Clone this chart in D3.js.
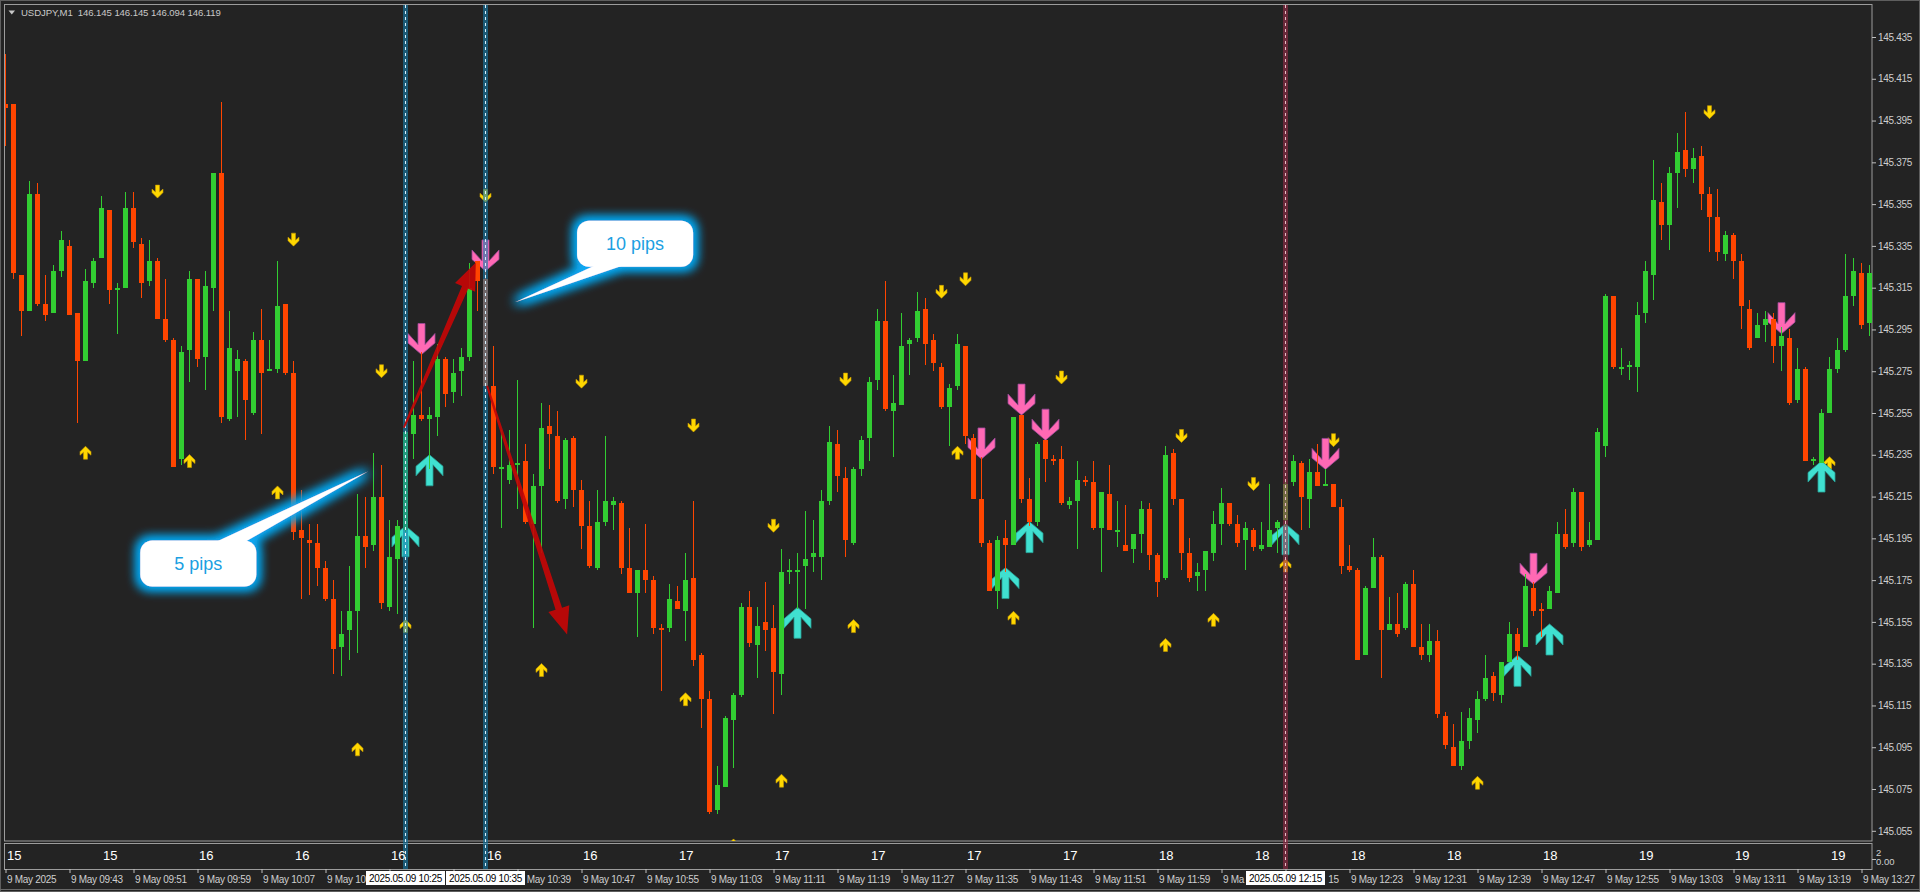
<!DOCTYPE html>
<html><head><meta charset="utf-8">
<script src="https://cdnjs.cloudflare.com/ajax/libs/d3/7.8.5/d3.min.js"></script>
<style>
html,body{margin:0;padding:0;background:#232323;overflow:hidden}
svg{display:block}
text{font-family:"Liberation Sans",Arial,sans-serif}
</style></head><body>
<svg id="chart" width="1920" height="892"></svg>
<script>
// ---------------- DATA ----------------
const symbolTitle = "USDJPY,M1  146.145 146.145 146.094 146.119";

const openP = [
145.403,145.403,145.321,145.304,145.360,145.307,145.303,145.323,145.335,145.303,
145.280,145.317,145.329,145.352,145.314,145.315,145.353,145.336,145.318,145.328,
145.300,145.290,145.233,145.285,145.319,145.282,145.315,145.370,145.252,145.275,
145.280,145.255,145.290,145.275,145.276,145.307,145.274,145.199,145.194,145.193,
145.181,145.166,145.143,145.151,145.160,145.196,145.192,145.215,145.162,145.185,
145.199,145.245,145.254,145.252,145.253,145.281,145.265,145.275,145.282,145.328,
145.319,145.268,145.228,145.223,145.230,145.232,145.202,145.220,145.249,145.244,
145.214,145.243,145.218,145.201,145.181,145.203,145.211,145.212,145.181,145.169,
145.180,145.175,145.152,145.152,145.165,145.160,145.176,145.139,145.118,145.065,
145.076,145.108,145.120,145.162,145.144,145.155,145.152,145.130,145.179,145.179,
145.182,145.186,145.186,145.213,145.240,145.224,145.193,145.228,145.243,145.271,
145.299,145.256,145.259,145.288,145.291,145.305,145.290,145.277,145.258,145.268,
145.287,145.243,145.214,145.193,145.170,145.195,145.192,145.254,145.214,145.203,
145.242,145.233,145.233,145.211,145.213,145.223,145.222,145.200,145.216,145.198,
145.192,145.190,145.197,145.209,145.187,145.176,145.236,145.214,145.188,145.177,
145.180,145.188,145.202,145.212,145.202,145.194,145.199,145.190,145.191,145.200,
145.204,145.222,145.231,145.214,145.227,145.220,145.221,145.210,145.182,145.180,
145.139,145.171,145.186,145.151,145.154,145.152,145.173,145.143,145.139,145.146,
145.110,145.095,145.086,145.098,145.108,145.118,145.129,145.120,145.136,145.149,
145.143,145.171,145.161,145.161,145.169,145.197,145.193,145.217,145.192,145.194,
145.239,145.311,145.276,145.277,145.277,145.303,145.321,145.356,145.345,145.370,
145.381,145.372,145.378,145.360,145.349,145.331,145.340,145.328,145.305,145.291,
145.297,145.300,145.287,145.291,145.261,145.276,145.232,145.231,145.255,145.276,
145.285,145.311,145.322,145.298];

const highP = [
145.427,145.403,145.321,145.366,145.365,145.321,145.326,145.342,145.338,145.303,
145.324,145.329,145.359,145.352,145.317,145.361,145.361,145.339,145.338,145.329,
145.319,145.291,145.287,145.323,145.319,145.323,145.370,145.404,145.304,145.285,
145.281,145.294,145.305,145.290,145.328,145.307,145.280,145.218,145.202,145.202,
145.184,145.175,145.160,145.182,145.216,145.215,145.236,145.230,145.204,145.204,
145.247,145.280,145.284,145.258,145.288,145.282,145.281,145.286,145.327,145.328,
145.323,145.287,145.247,145.247,145.271,145.240,145.226,145.260,145.259,145.256,
145.243,145.244,145.223,145.213,145.218,145.244,145.215,145.213,145.200,145.180,
145.202,145.177,145.154,145.173,145.172,145.188,145.213,145.140,145.122,145.086,
145.110,145.121,145.164,145.170,145.162,145.174,145.163,145.190,145.185,145.188,
145.208,145.204,145.218,145.249,145.247,145.229,145.229,145.244,145.272,145.305,
145.318,145.273,145.303,145.291,145.313,145.310,145.293,145.279,145.269,145.293,
145.287,145.245,145.234,145.194,145.196,145.204,145.253,145.254,145.224,145.241,
145.242,145.235,145.239,145.215,145.232,145.225,145.232,145.217,145.230,145.213,
145.211,145.197,145.213,145.212,145.188,145.239,145.238,145.214,145.195,145.183,
145.189,145.208,145.219,145.212,145.206,145.203,145.200,145.203,145.221,145.204,
145.223,145.235,145.232,145.233,145.240,145.228,145.221,145.214,145.192,145.181,
145.172,145.195,145.187,145.167,145.169,145.174,145.180,145.154,145.154,145.151,
145.112,145.106,145.112,145.114,145.122,145.139,145.131,145.136,145.155,145.152,
145.178,145.174,145.164,145.172,145.203,145.209,145.219,145.217,145.203,145.248,
145.312,145.311,145.286,145.280,145.308,145.328,145.376,145.365,145.373,145.389,
145.399,145.382,145.383,145.363,145.362,145.342,145.341,145.331,145.309,145.303,
145.304,145.303,145.296,145.295,145.286,145.277,145.234,145.257,145.282,145.291,
145.331,145.329,145.327,145.326];

const lowP = [
145.383,145.319,145.292,145.304,145.306,145.299,145.303,145.320,145.302,145.250,
145.280,145.315,145.329,145.307,145.293,145.315,145.334,145.310,145.316,145.300,
145.289,145.229,145.230,145.270,145.277,145.266,145.304,145.250,145.251,145.253,
145.242,145.254,145.245,145.275,145.274,145.273,145.194,145.166,145.168,145.172,
145.165,145.130,145.129,145.137,145.140,145.181,145.189,145.161,145.160,145.159,
145.198,145.233,145.251,145.228,145.244,145.258,145.260,145.263,145.280,145.304,
145.268,145.226,145.200,145.221,145.209,145.202,145.152,145.188,145.228,145.212,
145.209,145.210,145.190,145.181,145.180,145.201,145.199,145.178,145.169,145.148,
145.169,145.149,145.122,145.150,145.161,145.146,145.134,145.104,145.063,145.063,
145.076,145.085,145.119,145.143,145.128,145.141,145.111,145.120,145.173,145.161,
145.161,145.179,145.175,145.211,145.217,145.186,145.192,145.225,145.232,145.266,
145.256,145.234,145.259,145.273,145.289,145.278,145.275,145.257,145.239,145.266,
145.240,145.214,145.191,145.170,145.161,145.179,145.192,145.212,145.201,145.201,
145.222,145.230,145.211,145.209,145.190,145.220,145.199,145.179,145.199,145.191,
145.189,145.183,145.188,145.180,145.167,145.175,145.211,145.180,145.174,145.170,
145.170,145.184,145.192,145.201,145.191,145.180,145.189,145.189,145.191,145.188,
145.201,145.220,145.199,145.200,145.220,145.220,145.210,145.178,145.179,145.137,
145.139,145.171,145.128,145.151,145.148,145.151,145.143,145.137,145.136,145.109,
145.094,145.086,145.084,145.094,145.102,145.117,145.117,145.116,145.136,145.137,
145.143,145.158,145.148,145.161,145.169,145.190,145.191,145.189,145.191,145.194,
145.234,145.276,145.273,145.271,145.265,145.298,145.309,145.338,145.333,145.353,
145.368,145.365,145.352,145.332,145.328,145.328,145.319,145.295,145.285,145.291,
145.289,145.279,145.275,145.259,145.260,145.232,145.230,145.231,145.255,145.274,
145.284,145.306,145.295,145.292];

const closeP = [
145.401,145.322,145.304,145.360,145.307,145.302,145.323,145.338,145.302,145.280,
145.318,145.328,145.353,145.314,145.315,145.353,145.337,145.317,145.328,145.300,
145.290,145.229,145.284,145.319,145.281,145.316,145.370,145.253,145.286,145.281,
145.261,145.290,145.274,145.276,145.306,145.274,145.198,145.195,145.193,145.181,
145.166,145.142,145.149,145.160,145.196,145.191,145.215,145.164,145.186,145.201,
145.246,145.254,145.252,145.254,145.281,145.264,145.274,145.282,145.315,145.318,
145.268,145.229,145.229,145.230,145.231,145.203,145.220,145.248,145.245,145.213,
145.242,145.218,145.201,145.182,145.203,145.213,145.213,145.181,145.169,145.180,
145.175,145.152,145.151,145.166,145.161,145.175,145.137,145.118,145.064,145.077,
145.109,145.120,145.162,145.145,145.153,145.151,145.131,145.179,145.180,145.180,
145.185,145.188,145.213,145.241,145.225,145.194,145.228,145.242,145.270,145.299,
145.257,145.260,145.287,145.290,145.304,145.288,145.279,145.258,145.267,145.288,
145.244,145.214,145.193,145.170,145.194,145.192,145.253,145.214,145.203,145.240,
145.233,145.232,145.212,145.213,145.223,145.222,145.200,145.217,145.199,145.199,
145.189,145.197,145.209,145.187,145.174,145.235,145.214,145.188,145.176,145.179,
145.189,145.202,145.212,145.202,145.193,145.200,145.191,145.192,145.199,145.203,
145.221,145.232,145.215,145.227,145.220,145.221,145.210,145.182,145.180,145.137,
145.171,145.186,145.151,145.154,145.149,145.173,145.143,145.139,145.146,145.111,
145.096,145.086,145.098,145.109,145.118,145.128,145.121,145.136,145.149,145.141,
145.172,145.160,145.160,145.170,145.197,145.191,145.217,145.191,145.194,145.246,
145.311,145.277,145.277,145.278,145.302,145.323,145.357,145.345,145.370,145.380,
145.372,145.377,145.360,145.349,145.332,145.340,145.328,145.306,145.286,145.297,
145.300,145.287,145.292,145.260,145.276,145.232,145.233,145.255,145.276,145.285,
145.311,145.323,145.297,145.322];

const priceTicks = [145.435,145.415,145.395,145.375,145.355,145.335,145.315,145.295,145.275,145.255,
  145.235,145.215,145.195,145.175,145.155,145.135,145.115,145.095,145.075,145.055];

const timeTickBars = [0,8,16,24,32,40,48,56,64,72,80,88,96,104,112,120,128,136,144,152,160,168,176,184,192,200,208,216,224,232];
const timeLabels = ["9 May 2025","9 May 09:43","9 May 09:51","9 May 09:59","9 May 10:07","9 May 10:15","9 May 10:23","9 May 10:31",
  "9 May 10:39","9 May 10:47","9 May 10:55","9 May 11:03","9 May 11:11","9 May 11:19","9 May 11:27","9 May 11:35","9 May 11:43",
  "9 May 11:51","9 May 11:59","9 May 12:07","9 May 12:15","9 May 12:23","9 May 12:31","9 May 12:39","9 May 12:47","9 May 12:55",
  "9 May 13:03","9 May 13:11","9 May 13:19","9 May 13:27"];

const hourBars = [0,12,24,36,48,60,72,84,96,108,120,132,144,156,168,180,192,204,216,228];
const hourLabels = ["15","15","16","16","16","16","16","17","17","17","17","17","18","18","18","18","18","19","19","19"];
const subAxisLabels = ["2","0.00"];

const yellowUpBars = [10,23,34,44,50,67,85,91,97,106,119,126,145,151,160,184,228];
const yellowUpPrices = [145.236,145.232,145.217,145.094,145.153,145.132,145.118,145.048,145.079,145.153,145.236,145.157,145.144,145.156,145.182,145.078,145.231];
const yellowDownBars = [19,36,47,60,72,86,96,105,117,120,132,147,156,166,213];
const yellowDownPrices = [145.361,145.338,145.275,145.359,145.270,145.249,145.201,145.271,145.313,145.319,145.272,145.244,145.221,145.242,145.399];

const buyBars = [50,53,99,125,128,160,189,193,227];
const buyPrices = [145.201,145.235,145.162,145.181,145.203,145.202,145.139,145.154,145.232];
const sellBars = [52,60,122,127,130,165,191,222];
const sellPrices = [145.283,145.323,145.233,145.254,145.242,145.228,145.173,145.293];

const vLineBars = [50,60,160];
const vLineLabels = ["2025.05.09 10:25","2025.05.09 10:35","2025.05.09 12:15"];
const vLineKinds = ["blue","blue","red"];

const trendFromBar = [49.8,60.2];
const trendFromPrice = [145.248,145.268];
const trendToBar = [58.8,70.2];
const trendToPrice = [145.327,145.149];

const calloutText = ["5 pips","10 pips"];
const calloutBar = [24.1,78.7];
const calloutPrice = [145.183,145.336];
const calloutTipBar = [45.3,63.7];
const calloutTipPrice = [145.227,145.308];

// ---------------- DRAW ----------------
const svg = d3.select("#chart");
const W = 1920, H = 892;
const PL = 5, PR = 1872, PT = 5, PB = 841, ST = 843, SB = 869;
const BULL = "#32CD32", BEAR = "#FF4500", AXIS_TXT = "#cfcfcf", FRAME = "#9c9c9c";

const x = d3.scaleLinear().domain([0, 233]).range([5, 1869]);
const y = d3.scaleLinear().domain([145.435, 145.055]).range([37, 830.8]);

const defs = svg.append("defs");
defs.append("clipPath").attr("id", "clipMain").append("rect")
  .attr("x", PL).attr("y", PT).attr("width", PR - PL).attr("height", PB - PT);
const glow = defs.append("filter").attr("id", "glow")
  .attr("x", "-40%").attr("y", "-60%").attr("width", "180%").attr("height", "220%");
glow.append("feMorphology").attr("in", "SourceAlpha").attr("operator", "dilate").attr("radius", 3).attr("result", "d");
glow.append("feGaussianBlur").attr("in", "d").attr("stdDeviation", 5.5).attr("result", "b");
glow.append("feFlood").attr("flood-color", "#0aa8f2").attr("result", "f");
glow.append("feComposite").attr("in", "f").attr("in2", "b").attr("operator", "in").attr("result", "g");
const gm = glow.append("feMerge");
gm.append("feMergeNode").attr("in", "g");
gm.append("feMergeNode").attr("in", "g");
gm.append("feMergeNode").attr("in", "SourceGraphic");

svg.append("rect").attr("width", W).attr("height", H).attr("fill", "#232323");
svg.append("rect").attr("x", 0.5).attr("y", 0.5).attr("width", W - 1).attr("height", H - 1)
  .attr("fill", "none").attr("stroke", "#5e5e5e");

// frames
svg.append("rect").attr("x", PL - 0.5).attr("y", PT - 0.5).attr("width", PR - PL + 0.5).attr("height", PB - PT + 0.5)
  .attr("fill", "none").attr("stroke", FRAME);
svg.append("rect").attr("x", PL - 0.5).attr("y", ST + 0.5).attr("width", PR - PL + 0.5).attr("height", SB - ST)
  .attr("fill", "none").attr("stroke", FRAME);
svg.append("line").attr("x1", 0).attr("x2", W).attr("y1", 889.5).attr("y2", 889.5).attr("stroke", "#6a6a6a");

// header
svg.append("path").attr("d", "M8.5,10.5L15,10.5L11.75,14.5Z").attr("fill", "#c8c8c8");
svg.append("text").attr("x", 21).attr("y", 16).attr("font-size", 9.6).attr("fill", "#c8c8c8")
  .style("white-space", "pre").attr("letter-spacing", -0.1).text(symbolTitle);

// main plot group
const mainG = svg.append("g").attr("clip-path", "url(#clipMain)");

// signal arrows (behind candles)
const bigDown = [[-3.5,-31],[3.5,-31],[3.5,-10],[13.5,-21],[13.5,-11.5],[0,0],[-13.5,-11.5],[-13.5,-21],[-3.5,-10]];
const bigUp = bigDown.map(([a,b]) => [a, -b]);
const smallUp = [[0,-6.5],[5.5,-1],[5.5,2.5],[2,-0.5],[2,6.5],[-2,6.5],[-2,-0.5],[-5.5,2.5],[-5.5,-1]];
const smallDown = smallUp.map(([a,b]) => [a, -b]);
const poly = pts => "M" + pts.map(p => p.join(",")).join("L") + "Z";

const ySig = mainG.append("g");
ySig.selectAll("path.yu").data(yellowUpBars).join("path").attr("class", "yu")
  .attr("d", poly(smallUp))
  .attr("transform", (b, i) => `translate(${x(b) + 0.5},${y(yellowUpPrices[i])})`)
  .attr("fill", "#FFD700").attr("stroke", "#c79a00").attr("stroke-width", 0.6);
ySig.selectAll("path.yd").data(yellowDownBars).join("path").attr("class", "yd")
  .attr("d", poly(smallDown))
  .attr("transform", (b, i) => `translate(${x(b) + 0.5},${y(yellowDownPrices[i])})`)
  .attr("fill", "#FFD700").attr("stroke", "#c79a00").attr("stroke-width", 0.6);

mainG.selectAll("path.buy").data(buyBars).join("path").attr("class", "buy")
  .attr("d", poly(bigUp))
  .attr("transform", (b, i) => `translate(${x(b) + 0.5},${y(buyPrices[i])})`)
  .attr("fill", "#40E0D0").attr("stroke", "#279e94").attr("stroke-width", 0.8);
mainG.selectAll("path.sell").data(sellBars).join("path").attr("class", "sell")
  .attr("d", poly(bigDown))
  .attr("transform", (b, i) => `translate(${x(b) + 0.5},${y(sellPrices[i])})`)
  .attr("fill", "#FF69B4").attr("stroke", "#9b4a9a").attr("stroke-width", 0.8);

// candles
const bars = openP.map((o, i) => ({ i, o, h: highP[i], l: lowP[i], c: closeP[i] }));
const gc = mainG.append("g").attr("shape-rendering", "crispEdges");
gc.selectAll("rect.wick").data(bars).join("rect").attr("class", "wick")
  .attr("x", d => x(d.i)).attr("width", 1)
  .attr("y", d => Math.round(y(d.h)))
  .attr("height", d => Math.max(1, Math.round(y(d.l)) - Math.round(y(d.h))))
  .attr("fill", d => d.c >= d.o ? BULL : BEAR);
gc.selectAll("rect.body").data(bars).join("rect").attr("class", "body")
  .attr("x", d => x(d.i) - 2).attr("width", 5)
  .attr("y", d => Math.round(y(Math.max(d.o, d.c))))
  .attr("height", d => Math.max(1, Math.round(y(Math.min(d.o, d.c))) - Math.round(y(Math.max(d.o, d.c)))))
  .attr("fill", d => d.c >= d.o ? BULL : BEAR);

// vertical period lines
vLineBars.forEach((b, i) => {
  const cx = x(b);
  const blue = vLineKinds[i] === "blue";
  svg.append("rect").attr("x", cx - 2).attr("y", PT).attr("width", 5).attr("height", SB - PT)
    .attr("fill", blue ? "rgba(25,125,170,0.62)" : "rgba(150,45,72,0.62)");
  svg.append("line").attr("x1", cx + 0.5).attr("x2", cx + 0.5).attr("y1", PT).attr("y2", SB)
    .attr("stroke", blue ? "#d9f1ff" : "#e9bcc6").attr("stroke-width", 1).attr("stroke-dasharray", "3,3");
});

// red trend arrows
const overlay = svg.append("g").attr("clip-path", "url(#clipMain)");
function taper(x1, y1, x2, y2) {
  const dx = x2 - x1, dy = y2 - y1, len = Math.hypot(dx, dy);
  const ux = dx / len, uy = dy / len, nx = -uy, ny = ux;
  const hl = 27, hw = 11, w0 = 1, w1 = 3.4;
  const bx = x2 - ux * hl, by = y2 - uy * hl;
  return poly([[x1 + nx * w0, y1 + ny * w0], [bx + nx * w1, by + ny * w1], [bx + nx * hw, by + ny * hw], [x2, y2],
    [bx - nx * hw, by - ny * hw], [bx - nx * w1, by - ny * w1], [x1 - nx * w0, y1 - ny * w0]]);
}
trendFromBar.forEach((b, i) => {
  overlay.append("path")
    .attr("d", taper(x(b) + 0.5, y(trendFromPrice[i]), x(trendToBar[i]) + 0.5, y(trendToPrice[i])))
    .attr("fill", "#c40606").attr("fill-opacity", 0.92);
});

// callouts
calloutText.forEach((t, i) => {
  const cx = x(calloutBar[i]) + 0.5, cy = y(calloutPrice[i]);
  const tx = x(calloutTipBar[i]) + 0.5, ty = y(calloutTipPrice[i]);
  const bw = 116, bh = 46;
  const bc = Math.max(-40, Math.min(40, (tx - cx) * 0.16));
  const edgeY = ty < cy ? cy - bh / 2 + 4 : cy + bh / 2 - 4;
  const g = overlay.append("g").attr("filter", "url(#glow)");
  g.append("path").attr("d", `M${cx + bc - 15},${edgeY}L${tx},${ty}L${cx + bc + 15},${edgeY}Z`).attr("fill", "#ffffff");
  g.append("rect").attr("x", cx - bw / 2).attr("y", cy - bh / 2).attr("width", bw).attr("height", bh)
    .attr("rx", 12).attr("fill", "#ffffff");
  overlay.append("text").attr("x", cx).attr("y", cy + 6.5).attr("text-anchor", "middle")
    .attr("font-size", 18).attr("fill", "#1ba0e2").text(t);
});

// price axis
const yAxis = d3.axisRight(y).tickValues(priceTicks).tickFormat(d3.format(".3f")).tickSize(4).tickPadding(2);
const ya = svg.append("g").attr("transform", `translate(${PR},0)`).call(yAxis);
ya.select(".domain").remove();
ya.selectAll(".tick line").attr("stroke", "#c0c0c0");
ya.selectAll(".tick text").attr("fill", AXIS_TXT).attr("font-size", 10).attr("letter-spacing", -0.3)
  .attr("font-family", "'Liberation Sans',Arial,sans-serif");

// sub panel labels
svg.selectAll("text.hour").data(hourBars).join("text").attr("class", "hour")
  .attr("x", b => x(b) + 2).attr("y", 860).attr("font-size", 13).attr("fill", "#ffffff")
  .style("font-family", "'Liberation Sans Narrow','Liberation Sans',Arial,sans-serif")
  .text((b, i) => hourLabels[i]);
svg.append("line").attr("x1", PR).attr("x2", PR + 4).attr("y1", 859.5).attr("y2", 859.5).attr("stroke", "#c0c0c0");
svg.append("text").attr("x", PR + 4).attr("y", 855.5).attr("font-size", 9.5).attr("fill", AXIS_TXT).text(subAxisLabels[0]);
svg.append("text").attr("x", PR + 4).attr("y", 865).attr("font-size", 9.5).attr("fill", AXIS_TXT).text(subAxisLabels[1]);

// time axis
const xAxis = d3.axisBottom(x).tickValues(timeTickBars).tickFormat((d, i) => timeLabels[i]).tickSize(4).tickPadding(3);
const xa = svg.append("g").attr("transform", `translate(0.5,${SB})`).call(xAxis);
xa.select(".domain").remove();
xa.selectAll(".tick line").attr("stroke", "#c0c0c0");
xa.selectAll(".tick text").attr("fill", AXIS_TXT).attr("font-size", 10).attr("letter-spacing", -0.3)
  .attr("text-anchor", "start").attr("x", 1)
  .attr("font-family", "'Liberation Sans',Arial,sans-serif");

// highlighted time labels of the vertical lines; labels underneath are cut where the boxes cover them
const boxes = vLineBars.map(b => [x(b) + 0.5 - 39.5, x(b) + 0.5 + 39.5]);
xa.selectAll(".tick text").each(function () {
  const el = this, full = el.textContent;
  const r = el.getBoundingClientRect();
  const left = r.left, right = r.right;
  for (const [b0, b1] of boxes) {
    if (right <= b0 || left >= b1) continue;
    if (left < b0) {
      let n = full.length;
      while (n > 0 && left + el.getSubStringLength(0, n) > b0 + 1) n--;
      el.textContent = full.slice(0, n).replace(/\s+$/, "");
    } else {
      let s = 0;
      while (s < full.length && left + el.getSubStringLength(0, s) < b1 + 1) s++;
      while (s < full.length && full[s] === " ") s++;
      const shift = s < full.length ? el.getSubStringLength(0, s) : 0;
      el.textContent = full.slice(s);
      el.setAttribute("x", 1 + shift);
    }
    break;
  }
  if (!el.textContent) d3.select(el).remove();
});
vLineBars.forEach((b, i) => {
  const cx = x(b) + 0.5;
  svg.append("rect").attr("x", cx - 39.5).attr("y", 871).attr("width", 79).attr("height", 14).attr("fill", "#ffffff");
  svg.append("text").attr("x", cx).attr("y", 882).attr("text-anchor", "middle").attr("font-size", 10)
    .attr("letter-spacing", -0.3).attr("fill", "#000").text(vLineLabels[i]);
});
</script>
</body></html>
